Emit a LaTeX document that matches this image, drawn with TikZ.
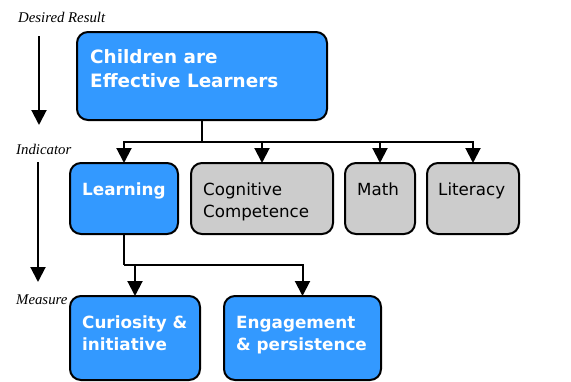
\documentclass[tikz,border=0pt]{standalone}
\usepackage{fontspec}
\newfontfamily\boxfont{DejaVu Sans}
\newfontfamily\labfont{Liberation Serif}
\usetikzlibrary{arrows.meta}
\definecolor{boxblue}{HTML}{3399FF}
\definecolor{boxgray}{HTML}{CCCCCC}
\tikzset{
  box/.style={draw=black, line width=2pt, rounded corners=11pt, anchor=north west, inner sep=0pt, outer sep=0pt},
  bluebox/.style={box, fill=boxblue},
  graybox/.style={box, fill=boxgray},
  btext/.style={anchor=base west, inner sep=0pt, text=white, font=\boxfont\bfseries\fontsize{16.8}{22}\selectfont, align=left},
  bigtext/.style={btext, font=\boxfont\bfseries\fontsize{18.4}{24}\selectfont},
  gtext/.style={anchor=base west, inner sep=0pt, text=black, font=\boxfont\fontsize{16.7}{22}\selectfont, align=left},
  lab/.style={anchor=base west, inner sep=0pt, font=\labfont\itshape\fontsize{14.8}{17}\selectfont},
  conn/.style={line width=2pt},
  arr/.style={conn, -{Triangle[width=15pt,length=15pt]}},
}
\begin{document}
\begin{tikzpicture}[x=1pt,y=-1pt]
\useasboundingbox (0,0) rectangle (571,381);
\clip (0,0) rectangle (571,381);
\fill[white] (0,0) rectangle (571,381);
% left labels
\node[lab] (ldr) at (18,22) {Desired Result};
\node[lab] (lind) at (16,154) {Indicator};
\node[lab] (lmea) at (16,304) {Measure};
\coordinate (a1s) at (39,36);
\coordinate (a1e) at (39,125);
\coordinate (a2s) at (38,162);
\coordinate (a2e) at (38,282);
\draw[arr] (a1s) -- (a1e);
\draw[arr] (a2s) -- (a2e);
% boxes
\node[bluebox, minimum width=250pt, minimum height=88pt] (top) at (77,32) {};
\node[bluebox, minimum width=108pt, minimum height=71pt] (learn) at (70,163) {};
\node[graybox, minimum width=142pt, minimum height=71pt] (cog) at (191,163) {};
\node[graybox, minimum width=70pt, minimum height=71pt] (math) at (345,163) {};
\node[graybox, minimum width=92pt, minimum height=71pt] (lit) at (427,163) {};
\node[bluebox, minimum width=130pt, minimum height=84pt] (cur) at (70,296) {};
\node[bluebox, minimum width=157pt, minimum height=84pt] (eng) at (224,296) {};
% texts (base anchor = baseline of the last line)
\node[bigtext] (ttop) at (90,87) {Children are\\Effective Learners};
\node[btext] (tlearn) at (82,195) {Learning};
\node[gtext] (tcog) at (203,217) {Cognitive\\Competence};
\node[gtext] (tmath) at (357,195) {Math};
\node[gtext] (tlit) at (438,195) {Literacy};
\node[btext] (tcur) at (82,350) {Curiosity \&\\initiative};
\node[btext] (teng) at (236,350) {Engagement\\\& persistence};
% connectors
\coordinate (y1) at (0,142);
\coordinate (h1) at (top.south |- y1);
\draw[conn] (top.south) -- (h1);
\draw[arr] (h1) -| (learn.north);
\draw[arr] (h1) -| (cog.north);
\draw[arr] (h1) -| (math.north);
\draw[arr] (h1) -| (lit.north);
\coordinate (y2) at (0,265);
\coordinate (h2) at (learn.south |- y2);
\draw[conn] (learn.south) -- (h2);
\draw[arr] (h2) -| (cur.north);
\draw[arr] (h2) -| (eng.north);
\end{tikzpicture}
\end{document}
